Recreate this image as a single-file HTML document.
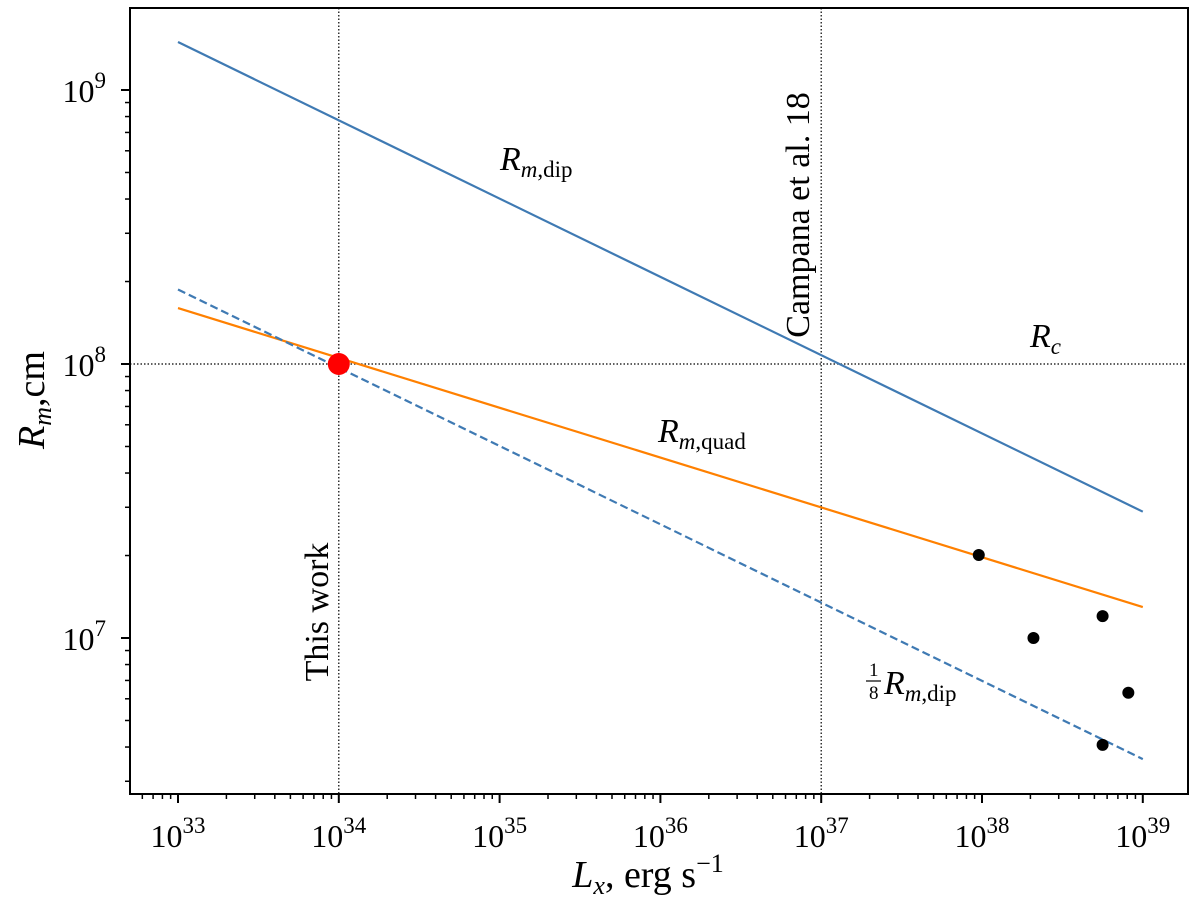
<!DOCTYPE html>
<html><head><meta charset="utf-8"><style>
body{margin:0;background:#fff}
text{font-family:"Liberation Serif",serif;fill:#000}
</style></head><body>
<svg id="c" width="1200" height="907" xmlns="http://www.w3.org/2000/svg"></svg>
<script>
const xTicks=[33,34,35,36,37,38,39];
const yTicks=[7,8,9];
const lineX=[33,39];
const dipY=[9.175,7.461];
const quadY=[8.204,7.113];
const eighthY=[8.272,6.558];
const ptsX=[37.98,38.32,38.75,38.91,38.75];
const ptsY=[7.303,7.0,7.08,6.80,6.61];
const markX=34, markY=8;
const vlines=[34,37];
const X0=130,X1=1188,Y0=8,Y1=794;
const xs=l=>178+(l-33)*160.8;
const ys=l=>364-(l-8)*274;
const svg=document.getElementById('c');
const NS='http://www.w3.org/2000/svg';
function el(tag,attrs,name,txt){const e=document.createElementNS(NS,tag);for(const k in attrs)e.setAttribute(k,attrs[k]);


if(txt!==undefined)e.innerHTML=txt;svg.appendChild(e);return e;}
vlines.forEach(v=>el('line',{x1:xs(v),x2:xs(v),y1:Y0,y2:Y1,stroke:'#000','stroke-width':1.2,'stroke-dasharray':'1.5,2'},'vertical-reference-line'));
el('line',{x1:X0,x2:X1,y1:ys(8),y2:ys(8),stroke:'#000','stroke-width':1.2,'stroke-dasharray':'1.5,2'},'rc-reference-line');
el('line',{x1:xs(lineX[0]),x2:xs(lineX[1]),y1:ys(dipY[0]),y2:ys(dipY[1]),stroke:'#3f7ab3','stroke-width':2.2},'rm-dip-line');
el('line',{x1:xs(lineX[0]),x2:xs(lineX[1]),y1:ys(quadY[0]),y2:ys(quadY[1]),stroke:'#ff8000','stroke-width':2.2},'rm-quad-line');
el('line',{x1:xs(lineX[0]),x2:xs(lineX[1]),y1:ys(eighthY[0]),y2:ys(eighthY[1]),stroke:'#3f7ab3','stroke-width':2.2,'stroke-dasharray':'8,4'},'rm-dip-eighth-line');
ptsX.forEach((p,i)=>el('circle',{cx:xs(p),cy:ys(ptsY[i]),r:6,fill:'#000'},'data-point'));
el('circle',{cx:xs(markX),cy:ys(markY),r:11,fill:'#f00'},'this-work-point');
el('rect',{x:X0,y:Y0,width:X1-X0,height:Y1-Y0,fill:'none',stroke:'#000','stroke-width':2},'plot-frame');
for(let d=32;d<=39;d++){for(let m=1;m<10;m++){const l=d+Math.log10(m);const x=xs(l);if(x<X0||x>X1)continue;
el('line',{x1:x,x2:x,y1:Y1,y2:Y1+(m==1?9:5),stroke:'#000','stroke-width':m==1?2:1.5},'x-tick');}}
xTicks.forEach(t=>el('text',{x:xs(t),y:Y1+53,'font-size':32,'text-anchor':'middle'},'x-tick-label','10<tspan dy="-14" font-size="23">'+t+'</tspan>'));
for(let d=6;d<=9;d++){for(let m=1;m<10;m++){const l=d+Math.log10(m);const y=ys(l);if(y<Y0||y>Y1)continue;
el('line',{x1:X0,x2:X0-(m==1?9:5),y1:y,y2:y,stroke:'#000','stroke-width':m==1?2:1.5},'y-tick');}}
yTicks.forEach(t=>el('text',{x:X0-24,y:ys(t)+12,'font-size':32,'text-anchor':'end'},'y-tick-label','10<tspan dy="-14" font-size="23">'+t+'</tspan>'));
el('text',{x:648,y:887,'font-size':38,'text-anchor':'middle'},'x-axis-title','<tspan font-style="italic">L</tspan><tspan font-style="italic" font-size="26" dy="7">x</tspan><tspan dy="-7">, erg s</tspan><tspan font-size="26" dy="-15">−1</tspan>');
el('text',{x:0,y:0,'font-size':38,'text-anchor':'middle',transform:'translate(44,400) rotate(-90)'},'y-axis-title','<tspan font-style="italic">R</tspan><tspan font-style="italic" font-size="26" dy="7">m</tspan><tspan dy="-7">,cm</tspan>');
el('text',{x:0,y:0,'font-size':34,'text-anchor':'middle',transform:'translate(328,612) rotate(-90)'},'this-work-label','This work');
el('text',{x:0,y:0,'font-size':34,'text-anchor':'middle',transform:'translate(809,215) rotate(-90)'},'campana-label','Campana et al. 18');
el('text',{x:500,y:170,'font-size':34},'rm-dip-label','<tspan font-style="italic">R</tspan><tspan font-size="23" dy="7"><tspan font-style="italic">m</tspan>,dip</tspan>');
el('text',{x:1030,y:347,'font-size':34},'rc-label','<tspan font-style="italic">R</tspan><tspan font-style="italic" font-size="23" dy="7">c</tspan>');
el('text',{x:658,y:442,'font-size':34},'rm-quad-label','<tspan font-style="italic">R</tspan><tspan font-size="23" dy="7"><tspan font-style="italic">m</tspan>,quad</tspan>');
el('text',{x:869,y:676,'font-size':19},'eighth-numerator','1');
el('line',{x1:866,x2:881,y1:681,y2:681,stroke:'#000','stroke-width':1.2},'fraction-bar');
el('text',{x:869,y:699,'font-size':19},'eighth-denominator','8');
el('text',{x:884,y:694,'font-size':34},'rm-dip-eighth-label','<tspan font-style="italic">R</tspan><tspan font-size="23" dy="7"><tspan font-style="italic">m</tspan>,dip</tspan>');
</script>
</body></html>
